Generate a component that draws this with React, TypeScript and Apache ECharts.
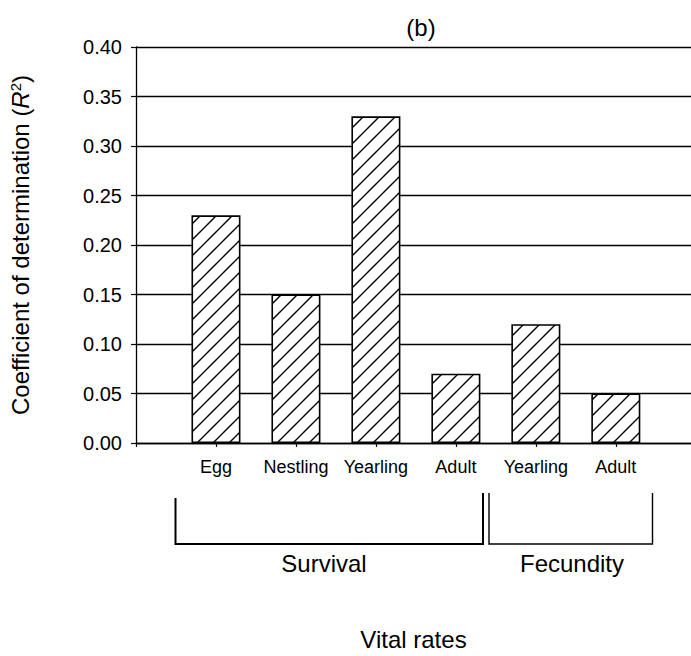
import React, { useEffect, useRef } from "react";
import * as echarts from "echarts";

const categories = ["Egg", "Nestling", "Yearling", "Adult", "Yearling", "Adult"];
const rSquared = [0.23, 0.15, 0.33, 0.07, 0.12, 0.05];
const groupLabels = ["Survival", "Fecundity"];
const positions = [1, 2, 3, 4, 5, 6];

const FONT = "'Liberation Sans', Arial, Helvetica, sans-serif";

function makeHatch(): HTMLCanvasElement {
  const s = 16;
  const c = document.createElement("canvas");
  c.width = s;
  c.height = s;
  const ctx = c.getContext("2d")!;
  ctx.fillStyle = "#fff";
  ctx.fillRect(0, 0, s, s);
  ctx.strokeStyle = "#000";
  ctx.lineWidth = 1.4;
  ctx.beginPath();
  ctx.moveTo(-2, s + 2);
  ctx.lineTo(s + 2, -2);
  ctx.moveTo(-2, 2);
  ctx.lineTo(2, -2);
  ctx.moveTo(s - 2, s + 2);
  ctx.lineTo(s + 2, s - 2);
  ctx.stroke();
  return c;
}

export default function App() {
  const ref = useRef<HTMLDivElement>(null);
  useEffect(() => {
    document.body.style.margin = "0";
    const chart = echarts.init(ref.current!, null, { renderer: "svg" });
    const hatch = makeHatch();
    chart.setOption({
      animation: false,
      backgroundColor: "#fff",
      title: {
        text: "(b)",
        left: 416,
        top: 10,
        textAlign: "center",
        textStyle: { fontFamily: FONT, fontSize: 24, fontWeight: "normal", color: "#000" },
      },
      grid: { left: 130, right: 0, top: 47, bottom: 212 },
      xAxis: {
        type: "value",
        min: 0,
        max: 6.94,
        interval: 1,
        name: "Vital rates",
        nameLocation: "middle",
        nameGap: 184,
        nameTextStyle: { fontFamily: FONT, fontSize: 24, color: "#000" },
        axisLine: { show: true, onZero: false, lineStyle: { color: "#000", width: 1.3 } },
        axisTick: { show: true, length: 4, lineStyle: { color: "#000", width: 1.2 }, customValues: [0, 1, 2, 3, 4, 5, 6] },
        axisLabel: {
          customValues: positions,
          margin: 15,
          fontFamily: FONT,
          fontSize: 18,
          color: "#000",
          formatter: (v: number) => categories[Math.round(v) - 1] ?? "",
        },
        splitLine: { show: false },
      },
      yAxis: {
        type: "value",
        min: 0,
        max: 0.4,
        interval: 0.05,
        name: "Coefficient of determination ({i|R}{sup|2})",
        nameLocation: "middle",
        nameGap: 103,
        nameRotate: 90,
        nameTextStyle: {
          fontFamily: FONT,
          fontSize: 24,
          color: "#000",
          rich: {
            i: { fontFamily: FONT, fontSize: 24, fontStyle: "italic", color: "#000" },
            sup: { fontFamily: FONT, fontSize: 15, color: "#000", verticalAlign: "top", padding: [0, 0, 10, 0] },
          },
        },
        axisLine: { show: true, lineStyle: { color: "#000", width: 1.3 } },
        axisTick: { show: true, length: 5, lineStyle: { color: "#000", width: 1.2 } },
        axisLabel: {
          margin: 14,
          fontFamily: FONT,
          fontSize: 20,
          color: "#000",
          formatter: (v: number) => v.toFixed(2),
        },
        splitLine: { show: true, lineStyle: { color: "#000", width: 1.3 } },
      },
      series: [
        {
          type: "bar",
          barWidth: 49,
          data: positions.map((p, i) => [p, rSquared[i]]),
          itemStyle: {
            color: { image: hatch, repeat: "repeat", imageWidth: 16, imageHeight: 16 } as any,
            borderColor: "#000",
            borderWidth: 1.6,
          },
        },
      ],
      graphic: [
        {
          type: "polyline",
          shape: { points: [[175.5, 498], [175.5, 544], [483, 544], [483, 493]] },
          style: { stroke: "#000", lineWidth: 2, fill: null },
        },
        {
          type: "polyline",
          shape: { points: [[489, 493], [489, 544], [652.5, 544], [652.5, 493]] },
          style: { stroke: "#000", lineWidth: 1.4, fill: null },
        },
        {
          type: "text",
          x: 324,
          y: 563,
          style: { text: groupLabels[0], font: `24px ${FONT}`, fill: "#000", align: "center", verticalAlign: "middle" },
        },
        {
          type: "text",
          x: 572,
          y: 563,
          style: { text: groupLabels[1], font: `24px ${FONT}`, fill: "#000", align: "center", verticalAlign: "middle" },
        },
      ],
    });
    return () => chart.dispose();
  }, []);
  return <div ref={ref} style={{ width: 691, height: 656 }} />;
}
